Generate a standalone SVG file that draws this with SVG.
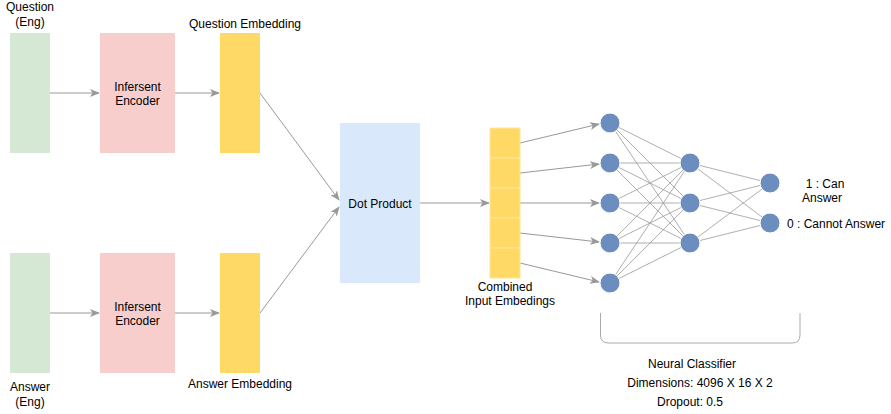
<svg xmlns="http://www.w3.org/2000/svg" width="891" height="414" viewBox="0 0 891 414">
<style>
text{font-family:"Liberation Sans",Arial,sans-serif;font-size:12px;fill:#000;text-anchor:middle}
.g{fill:#d5e8d4}
.p{fill:#f8cecc}
.y{fill:#ffd966}
.b{fill:#dae8fc}
.n{fill:#6c8ebf;stroke:#ffffff;stroke-width:1}
.c{stroke:#999;stroke-width:1;fill:none}
.a{stroke:#999;stroke-width:1;fill:none;marker-end:url(#ar)}
.w{stroke:#999;stroke-width:0.8;fill:none}
</style>
<defs>
<marker id="ar" markerWidth="10" markerHeight="8" refX="9" refY="4" orient="auto" markerUnits="userSpaceOnUse">
<path d="M0,0 L10,4 L0,8 L2.5,4 Z" fill="#999"/>
</marker>
</defs>
<g id="connectors">
<line class="a" x1="50" y1="93" x2="99" y2="93"/>
<line class="a" x1="175" y1="93" x2="219" y2="93"/>
<line class="a" x1="50" y1="313" x2="99" y2="313"/>
<line class="a" x1="175" y1="313" x2="219" y2="313"/>
<line class="a" x1="260" y1="93" x2="339" y2="200"/>
<line class="a" x1="260" y1="313" x2="339" y2="207"/>
<line class="a" x1="420" y1="203" x2="489" y2="203"/>
<line class="a" x1="520" y1="143" x2="599" y2="124"/>
<line class="a" x1="520" y1="173" x2="599" y2="164"/>
<line class="a" x1="520" y1="203" x2="599" y2="203"/>
<line class="a" x1="520" y1="233" x2="599" y2="242"/>
<line class="a" x1="520" y1="263" x2="599" y2="282"/>
<g class="w">
<line x1="610" y1="123" x2="690" y2="163"/><line x1="610" y1="123" x2="690" y2="203"/><line x1="610" y1="123" x2="690" y2="243"/>
<line x1="610" y1="163" x2="690" y2="163"/><line x1="610" y1="163" x2="690" y2="203"/><line x1="610" y1="163" x2="690" y2="243"/>
<line x1="610" y1="203" x2="690" y2="163"/><line x1="610" y1="203" x2="690" y2="203"/><line x1="610" y1="203" x2="690" y2="243"/>
<line x1="610" y1="243" x2="690" y2="163"/><line x1="610" y1="243" x2="690" y2="203"/><line x1="610" y1="243" x2="690" y2="243"/>
<line x1="610" y1="283" x2="690" y2="163"/><line x1="610" y1="283" x2="690" y2="203"/><line x1="610" y1="283" x2="690" y2="243"/>
<line x1="690" y1="163" x2="770" y2="183"/><line x1="690" y1="163" x2="770" y2="223"/>
<line x1="690" y1="203" x2="770" y2="183"/><line x1="690" y1="203" x2="770" y2="223"/>
<line x1="690" y1="243" x2="770" y2="183"/><line x1="690" y1="243" x2="770" y2="223"/>
</g>
</g>
<g id="question-eng"><rect class="g" x="10" y="33" width="40" height="120"/><text x="30" y="11">Question</text><text x="30" y="26">(Eng)</text></g>
<g id="encoder-q"><rect class="p" x="100" y="33" width="75" height="120"/><text x="137.5" y="91">Infersent</text><text x="137.5" y="105">Encoder</text></g>
<g id="question-embedding"><rect class="y" x="220" y="33" width="40" height="120"/><text x="245" y="28">Question Embedding</text></g>
<g id="answer-eng"><rect class="g" x="10" y="253" width="40" height="120"/><text x="30" y="391">Answer</text><text x="30" y="406">(Eng)</text></g>
<g id="encoder-a"><rect class="p" x="100" y="253" width="75" height="120"/><text x="137.5" y="311">Infersent</text><text x="137.5" y="325">Encoder</text></g>
<g id="answer-embedding"><rect class="y" x="220" y="253" width="40" height="120"/><text x="240" y="388">Answer Embedding</text></g>
<g id="dot-product"><rect class="b" x="340" y="123" width="80" height="160"/><text x="380" y="208">Dot Product</text></g>
<g id="combined">
<g stroke="#ffe599" stroke-width="1" fill="#ffd966">
<rect x="490" y="128" width="30" height="30"/><rect x="490" y="158" width="30" height="30"/><rect x="490" y="188" width="30" height="30"/><rect x="490" y="218" width="30" height="30"/><rect x="490" y="248" width="30" height="30"/>
</g>
<text x="505" y="291">Combined</text><text x="510" y="305">Input Embedings</text>
</g>
<g id="layer1">
<circle class="n" cx="610" cy="123" r="10"/><circle class="n" cx="610" cy="163" r="10"/><circle class="n" cx="610" cy="203" r="10"/><circle class="n" cx="610" cy="243" r="10"/><circle class="n" cx="610" cy="283" r="10"/>
</g>
<g id="layer2">
<circle class="n" cx="690" cy="163" r="10"/><circle class="n" cx="690" cy="203" r="10"/><circle class="n" cx="690" cy="243" r="10"/>
</g>
<g id="layer3">
<circle class="n" cx="770" cy="183" r="10"/><circle class="n" cx="770" cy="223" r="10"/>
</g>
<g id="labels-out">
<text x="825" y="188">1 : Can</text><text x="822" y="202">Answer</text>
<text x="787" y="228" style="text-anchor:start">0 : Cannot Answer</text>
</g>
<g id="classifier">
<path d="M600.5,313 V335 Q600.5,343 608.5,343 H792 Q800,343 800,335 V313" fill="none" stroke="#aaa" stroke-width="1"/>
<text x="692" y="368">Neural Classifier</text>
<text x="700" y="387">Dimensions: 4096 X 16 X 2</text>
<text x="690" y="406">Dropout: 0.5</text>
</g>
</svg>
